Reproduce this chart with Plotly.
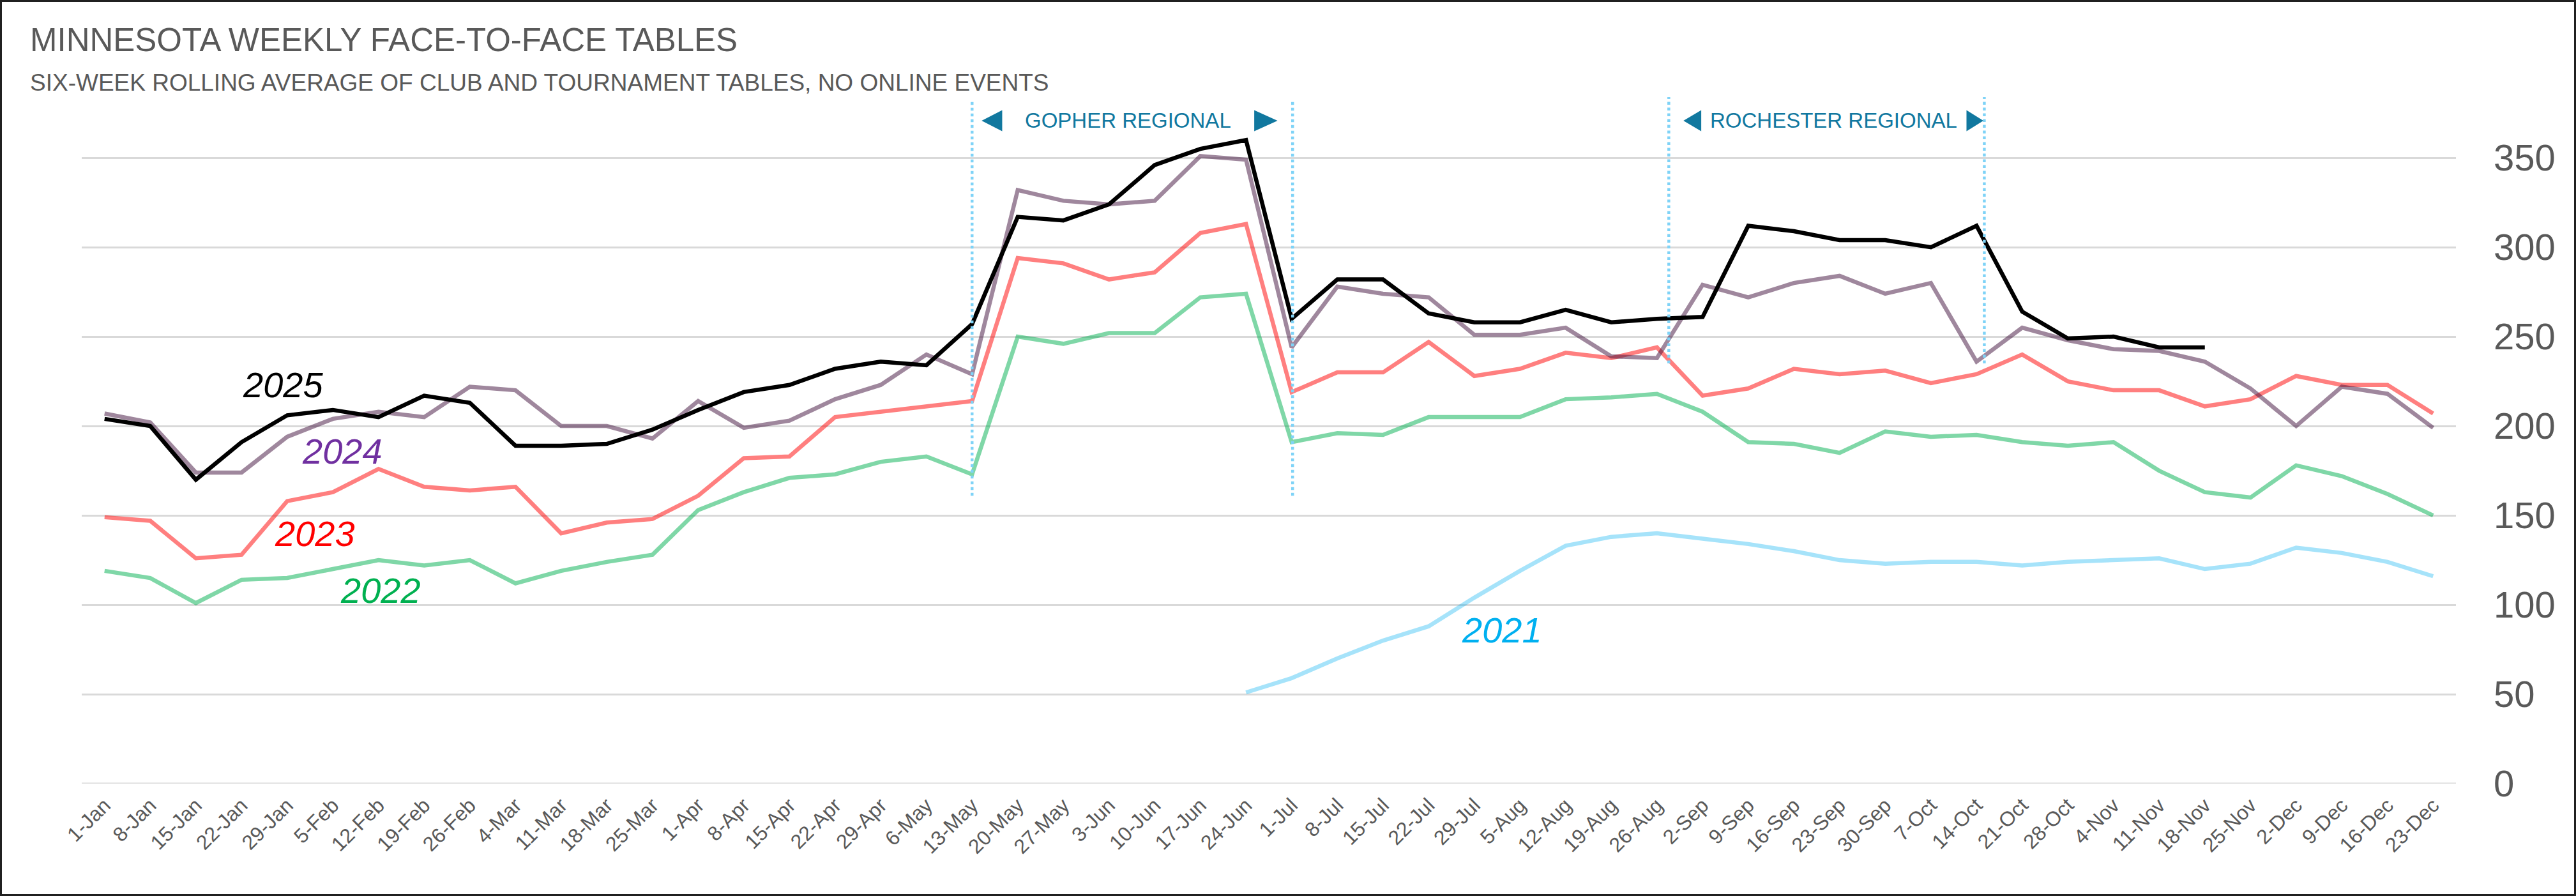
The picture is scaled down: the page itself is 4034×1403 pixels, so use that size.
import plotly.graph_objects as go

weeks = ['1-Jan', '8-Jan', '15-Jan', '22-Jan', '29-Jan', '5-Feb', '12-Feb', '19-Feb', '26-Feb',
         '4-Mar', '11-Mar', '18-Mar', '25-Mar', '1-Apr', '8-Apr', '15-Apr', '22-Apr', '29-Apr',
         '6-May', '13-May', '20-May', '27-May', '3-Jun', '10-Jun', '17-Jun', '24-Jun', '1-Jul',
         '8-Jul', '15-Jul', '22-Jul', '29-Jul', '5-Aug', '12-Aug', '19-Aug', '26-Aug', '2-Sep',
         '9-Sep', '16-Sep', '23-Sep', '30-Sep', '7-Oct', '14-Oct', '21-Oct', '28-Oct', '4-Nov',
         '11-Nov', '18-Nov', '25-Nov', '2-Dec', '9-Dec', '16-Dec', '23-Dec']

t2021 = [None] * 25 + [51, 59, 70, 80, 88, 104, 119, 133, 138, 140, 137, 134, 130, 125, 123,
                       124, 124, 122, 124, 125, 126, 120, 123, 132, 129, 124, 116]
t2022 = [119, 115, 101, 114, 115, 120, 125, 122, 125, 112, 119, 124, 128, 153, 163, 171, 173,
         180, 183, 173, 250, 246, 252, 252, 272, 274, 191, 196, 195, 205, 205, 205, 215, 216,
         218, 208, 191, 190, 185, 197, 194, 195, 191, 189, 191, 175, 163, 160, 178, 172, 162, 150]
t2023 = [149, 147, 126, 128, 158, 163, 176, 166, 164, 166, 140, 146, 148, 161, 182, 183, 205,
         208, 211, 214, 294, 291, 282, 286, 308, 313, 219, 230, 230, 247, 228, 232, 241, 238,
         244, 217, 221, 232, 229, 231, 224, 229, 240, 225, 220, 220, 211, 215, 228, 223, 223, 207]
t2024 = [207, 202, 174, 174, 194, 204, 208, 205, 222, 220, 200, 200, 193, 214, 199, 203, 215,
         223, 240, 229, 332, 326, 324, 326, 351, 349, 244, 278, 274, 272, 251, 251, 255, 239,
         238, 279, 272, 280, 284, 274, 280, 236, 255, 248, 243, 242, 236, 221, 200, 222, 218, 199]
t2025 = [204, 200, 170, 191, 206, 209, 205, 217, 213, 189, 189, 190, 198, 209, 219, 223, 232,
         236, 234, 257, 317, 315, 324, 346, 355, 360, 260, 282, 282, 263, 258, 258, 265, 258,
         260, 261, 312, 309, 304, 304, 300, 312, 264, 249, 250, 244, 244] + [None] * 5

y_ticks = [0, 50, 100, 150, 200, 250, 300, 350]

series = [
    ('2021', t2021, 'rgba(0,176,240,0.35)', '#00B0F0', 30.6, 86),
    ('2022', t2022, 'rgba(0,176,80,0.5)', '#00B050', 6.05, 108),
    ('2023', t2023, 'rgba(255,0,0,0.5)', '#FF0000', 4.6, 140),
    ('2024', t2024, 'rgba(64,16,60,0.5)', '#7030A0', 5.2, 186),
    ('2025', t2025, 'black', 'black', 3.9, 223),
]

GREY = '#595959'
TEAL = '#11789F'
FONT = 'Liberation Sans, Arial'

fig = go.Figure()
for name, vals, lc, tc, lx, ly in series:
    fig.add_trace(go.Scatter(x=weeks, y=vals, mode='lines', name=name,
                             line=dict(color=lc, width=6.5), connectgaps=False))
    fig.add_annotation(x=lx, y=ly, xref='x', yref='y', text='<i>%s</i>' % name,
                       showarrow=False, font=dict(family=FONT, size=56, color=tc))

# zero gridline (plotly hides it at the range edge)
fig.add_shape(type='line', xref='paper', yref='y', x0=0, x1=1, y0=0, y1=0,
              line=dict(color='#D9D9D9', width=3), layer='below')

# event markers (dotted lines)
for xpos, ytop, ybot in [(19, 382, 161), (26.02, 382, 161), (34.26, 384, 235), (41.17, 384, 235)]:
    fig.add_shape(type='line', xref='x', yref='y', x0=xpos, x1=xpos, y0=ybot, y1=ytop,
                  line=dict(color='#7FD3F7', width=4.5, dash='dot'), layer='above')

# regional labels with arrow heads
for label, xc, lt, lf, rf, rt in [('GOPHER REGIONAL', 22.42, 19.21, 19.66, 25.18, 25.69),
                                  ('ROCHESTER REGIONAL', 37.87, 34.58, 34.97, 40.78, 41.15)]:
    fig.add_annotation(x=xc, y=370.8, xref='x', yref='y', text=label, showarrow=False,
                       font=dict(family=FONT, size=33, color=TEAL))
    for tip, flat in [(lt, lf), (rt, rf)]:
        fig.add_shape(type='path', xref='x', yref='y',
                      path='M %s,370.8 L %s,376.7 L %s,364.9 Z' % (tip, flat, flat),
                      fillcolor=TEAL, line=dict(width=0))

fig.add_annotation(x=-0.0222, y=1.0828, xref='paper', yref='paper', xanchor='left',
                   yanchor='middle', showarrow=False, text='MINNESOTA WEEKLY FACE-TO-FACE TABLES',
                   font=dict(family=FONT, size=51, color=GREY))
fig.add_annotation(x=-0.0222, y=1.0209, xref='paper', yref='paper', xanchor='left',
                   yanchor='middle', showarrow=False,
                   text='SIX-WEEK ROLLING AVERAGE OF CLUB AND TOURNAMENT TABLES, NO ONLINE EVENTS',
                   font=dict(family=FONT, size=37, color=GREY))

# border round the whole chart
fig.add_shape(type='rect', xref='paper', yref='paper',
              x0=(1.5 - 128) / 3718, x1=(4032.5 - 128) / 3718,
              y0=(1227 - 1401.5) / 1075, y1=(1227 - 1.5) / 1075,
              line=dict(color='#202020', width=3), fillcolor='rgba(0,0,0,0)')

fig.update_layout(
    width=4034, height=1403,
    margin=dict(l=128, r=188, t=152, b=176),
    paper_bgcolor='white', plot_bgcolor='white',
    showlegend=False,
    xaxis=dict(type='category', range=[-0.5, 51.5], tickmode='array', tickvals=weeks,
               ticktext=weeks, tickangle=-45, showgrid=False, zeroline=False, showline=False,
               ticks='', ticklabelstandoff=8,
               tickfont=dict(family=FONT, size=32, color=GREY)),
    yaxis=dict(range=[0, 384], side='right', tickvals=y_ticks, showgrid=True,
               gridcolor='#D9D9D9', gridwidth=3, zeroline=False, showline=False,
               ticks='', ticklabelstandoff=58,
               tickfont=dict(family=FONT, size=58, color=GREY)),
)

fig.write_html("out.html", config=dict(displayModeBar=False),
               post_script="document.body.style.margin='0';document.body.style.overflow='hidden';")
